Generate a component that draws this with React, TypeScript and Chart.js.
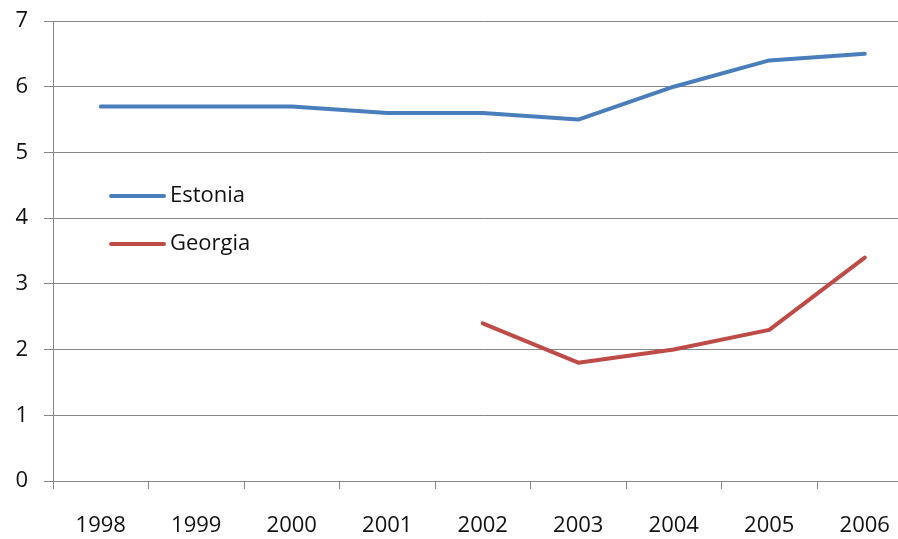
import React, { useEffect, useRef } from "react";
import { Chart, registerables } from "chart.js";

Chart.register(...registerables);

const years = ["1998", "1999", "2000", "2001", "2002", "2003", "2004", "2005", "2006"];
const estonia = [5.7, 5.7, 5.7, 5.6, 5.6, 5.5, 6.0, 6.4, 6.5];
const georgia = [null, null, null, null, 2.4, 1.8, 2.0, 2.3, 3.4];
const seriesNames = ["Estonia", "Georgia"];
const seriesColors = ["#4A7EBB", "#BE4B48"];

const FONT_FAMILY = "'Open Sans', 'Noto Sans', sans-serif";
const FONT_SIZE = 22;
const CANVAS_W = 920;
const CANVAS_H = 539;

const legendPlugin = {
  id: "insideLegend",
  afterDraw(chart: any) {
    const ctx = chart.ctx;
    const area = chart.chartArea;
    ctx.save();
    chart.data.datasets.forEach((ds: any, i: number) => {
      const y = area.top + 175 + i * 48;
      const x0 = area.left + 58;
      ctx.strokeStyle = ds.borderColor;
      ctx.lineWidth = 4;
      ctx.lineCap = "round";
      ctx.beginPath();
      ctx.moveTo(x0, y);
      ctx.lineTo(x0 + 53, y);
      ctx.stroke();
      ctx.fillStyle = "#111111";
      ctx.font = `${FONT_SIZE}px ${FONT_FAMILY}`;
      ctx.textBaseline = "middle";
      ctx.textAlign = "left";
      ctx.fillText(ds.label, x0 + 59, y);
    });
    ctx.restore();
  },
};

export default function App() {
  const canvasRef = useRef<HTMLCanvasElement | null>(null);

  useEffect(() => {
    const canvas = canvasRef.current;
    if (!canvas) return;
    const chart = new Chart(canvas, {
      type: "line",
      data: {
        labels: years,
        datasets: [
          {
            label: seriesNames[0],
            data: estonia,
            borderColor: seriesColors[0],
            backgroundColor: seriesColors[0],
            borderWidth: 4,
            pointRadius: 0,
            tension: 0,
            borderCapStyle: "round",
            borderJoinStyle: "round",
          },
          {
            label: seriesNames[1],
            data: georgia as any,
            borderColor: seriesColors[1],
            backgroundColor: seriesColors[1],
            borderWidth: 4,
            pointRadius: 0,
            tension: 0,
            borderCapStyle: "round",
            borderJoinStyle: "round",
            spanGaps: false,
          },
        ],
      },
      options: {
        responsive: false,
        animation: false,
        layout: { padding: { top: 21, left: 0, right: 7.5, bottom: 0 } },
        plugins: {
          legend: { display: false },
          tooltip: { enabled: false },
        },
        scales: {
          x: {
            type: "category",
            offset: true,
            grid: {
              display: true,
              offset: true,
              drawOnChartArea: false,
              drawTicks: true,
              tickLength: 8,
              color: "#868686",
              lineWidth: 1,
            },
            border: { display: true, color: "#868686", width: 1 },
            ticks: {
              color: "#111111",
              font: { family: FONT_FAMILY, size: FONT_SIZE },
              padding: 24,
              maxRotation: 0,
              autoSkip: false,
            },
            afterFit(scale: any) {
              scale.height = CANVAS_H - 481;
              scale.paddingLeft = 0;
              scale.paddingRight = 0;
            },
          },
          y: {
            min: 0,
            max: 7,
            grid: {
              color: "#868686",
              lineWidth: 1,
              drawTicks: true,
              tickLength: 9,
            },
            border: { display: true, color: "#868686", width: 1 },
            ticks: {
              stepSize: 1,
              color: "#111111",
              font: { family: FONT_FAMILY, size: FONT_SIZE },
              padding: 16,
            },
            afterFit(scale: any) {
              scale.width = 53;
              scale.paddingTop = 0;
              scale.paddingBottom = 0;
            },
          },
        },
      },
      plugins: [legendPlugin],
    });
    return () => chart.destroy();
  }, []);

  return (
    <div
      style={{
        position: "fixed",
        left: 0,
        top: 0,
        width: 898,
        height: 539,
        overflow: "hidden",
        background: "#fff",
      }}
    >
      <canvas
        ref={canvasRef}
        width={CANVAS_W}
        height={CANVAS_H}
        style={{ width: CANVAS_W, height: CANVAS_H, display: "block" }}
      />
    </div>
  );
}
